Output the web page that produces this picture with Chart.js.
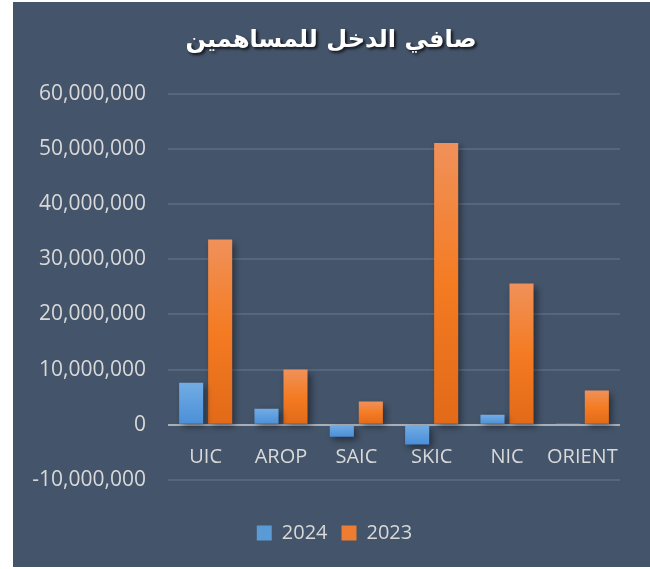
<!DOCTYPE html>
<html>
<head>
<meta charset="utf-8">
<script src="https://cdn.jsdelivr.net/npm/chart.js@4.4.1/dist/chart.umd.min.js"></script>
<style>
  html, body { margin: 0; padding: 0; background: #ffffff; }
  #box { position: absolute; left: 13px; top: 2px; width: 637px; height: 565px; background: #44546A; }
</style>
</head>
<body>
<div id="box"><canvas id="chart" width="637" height="565"></canvas></div>
<script>
// صافي الدخل للمساهمين
var chartTitle = "صافي الدخل للمساهمين";
var companies = ["UIC", "AROP", "SAIC", "SKIC", "NIC", "ORIENT"];
var seriesNames = ["2024", "2023"];
var income2024 = [7600000, 2900000, -2200000, -3600000, 1800000, 200000];
var income2023 = [33600000, 10000000, 4200000, 51100000, 25600000, 6200000];
var yTicks = [-10000000, 0, 10000000, 20000000, 30000000, 40000000, 50000000, 60000000];

var blueStops = ["#72ACE4", "#4A8FD8"];
var orangeStops = ["#F0915A", "#F47B22", "#E26A18"];

function barGradient(stops, solid) {
    return function(ctx) {
        var chart = ctx.chart;
        var y = chart.scales.y;
        if (!chart.chartArea || !y || ctx.raw === undefined) return solid;
        var p1 = y.getPixelForValue(ctx.raw), p0 = y.getPixelForValue(0);
        var top = Math.min(p1, p0), bot = Math.max(p1, p0);
        if (bot - top < 1) return solid;
        var g = chart.ctx.createLinearGradient(0, top, 0, bot);
        stops.forEach(function(c, i) { g.addColorStop(i / (stops.length - 1), c); });
        return g;
    };
}

var barShadow = {
    id: "barShadow",
    beforeDatasetsDraw: function(chart) {
        var c = chart.ctx;
        c.save();
        c.shadowColor = "rgba(0,0,0,0.45)";
        c.shadowBlur = 7;
        c.shadowOffsetX = 3;
        c.shadowOffsetY = 3;
    },
    afterDatasetsDraw: function(chart) { chart.ctx.restore(); }
};

var titleDraw = {
    id: "titleDraw",
    afterDraw: function(chart) {
        var c = chart.ctx;
        c.save();
        c.font = "bold 24px 'DejaVu Sans'";
        c.textAlign = "center";
        c.textBaseline = "middle";
        c.fillStyle = "#ffffff";
        c.shadowColor = "rgba(0,0,0,0.75)";
        c.shadowBlur = 3;
        c.shadowOffsetX = 2;
        c.shadowOffsetY = 2;
        c.fillText(chartTitle, 318, 39);
        c.restore();
    }
};

// legend sits a little right of the canvas centre in the original
var legendShift = {
    id: "legendShift",
    beforeDraw: function(chart) {
        if (chart.legend && !chart.legend._shifted) {
            chart.legend.left += 18;
            chart.legend.right += 18;
            chart.legend._shifted = true;
        }
    }
};

var tickFont = { family: "'Open Sans'", size: 21 };
var labelFont = { family: "'Open Sans'", size: 20 };

new Chart(document.getElementById("chart").getContext("2d"), {
    type: "bar",
    data: {
        labels: companies,
        datasets: [
            { label: seriesNames[0], data: income2024, backgroundColor: barGradient(blueStops, "#5B9BD5") },
            { label: seriesNames[1], data: income2023, backgroundColor: barGradient(orangeStops, "#ED7D31") }
        ]
    },
    plugins: [barShadow, titleDraw, legendShift],
    options: {
        responsive: false,
        animation: false,
        categoryPercentage: 0.77,
        barPercentage: 0.83,
        layout: { padding: { top: 92, right: 30, bottom: 14, left: 0 } },
        plugins: {
            title: { display: false },
            // empty spacer between plot and legend
            subtitle: { display: true, text: "", position: "bottom", weight: 500, font: { size: 1 }, padding: 14 },
            tooltip: { enabled: false },
            legend: {
                position: "bottom",
                weight: 3000,
                labels: {
                    color: "#D9D9D9",
                    font: labelFont,
                    boxWidth: 15,
                    boxHeight: 15,
                    padding: 14,
                    generateLabels: function(chart) {
                        return [
                            { text: seriesNames[0], fillStyle: "#5B9BD5", strokeStyle: "#5B9BD5", lineWidth: 0, fontColor: "#D9D9D9", datasetIndex: 0 },
                            { text: seriesNames[1], fillStyle: "#ED7D31", strokeStyle: "#ED7D31", lineWidth: 0, fontColor: "#D9D9D9", datasetIndex: 1 }
                        ];
                    }
                }
            }
        },
        scales: {
            x: {
                position: { y: 0 },
                grid: { display: false, drawTicks: false },
                border: { display: false },
                ticks: { color: "#D9D9D9", font: labelFont, padding: 21, maxRotation: 0, minRotation: 0, autoSkip: false }
            },
            y: {
                min: yTicks[0],
                max: yTicks[yTicks.length - 1],
                afterFit: function(scale) { scale.width = 155; },
                afterBuildTicks: function(scale) { scale.ticks = yTicks.map(function(v) { return { value: v }; }); },
                grid: {
                    drawTicks: false,
                    color: function(ctx) { return ctx.tick && ctx.tick.value === 0 ? "#A9AFB8" : "#56667D"; },
                    lineWidth: 2
                },
                border: { display: false },
                ticks: {
                    color: "#D9D9D9",
                    font: tickFont,
                    padding: 22,
                    callback: function(v) { return Number(v).toLocaleString("en-US"); }
                }
            }
        }
    }
});
</script>
</body>
</html>
